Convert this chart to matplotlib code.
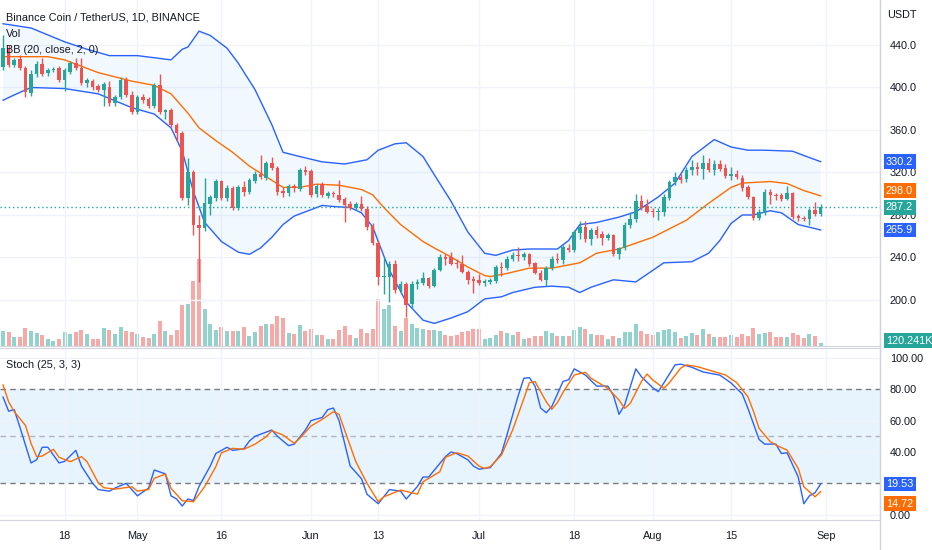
import numpy as np
import pandas as pd
import matplotlib
matplotlib.use("Agg")
import matplotlib.pyplot as plt
from matplotlib.lines import Line2D
from matplotlib.transforms import blended_transform_factory

plt.rcParams['font.family'] = ['Liberation Sans Narrow', 'Liberation Sans', 'DejaVu Sans']

# daily candles, Apr 7 .. Aug 31 2022
opens = [
    419, 436, 421, 427, 418, 395, 413, 422, 414, 416, 418, 407, 415, 423, 418, 404, 406, 401, 398, 400, 385, 391, 407, 393,
    377, 391, 389, 383, 402, 377, 379, 365, 357, 296, 320, 271, 268, 290, 296, 312, 296, 305, 287, 306, 302, 312, 319, 315, 329, 324, 303, 301, 307, 304, 322,
    321, 300, 309, 298, 301, 299, 295, 290, 287, 290, 286, 270, 254, 222, 222, 234, 209, 215, 196, 215, 216, 221, 213, 228, 240, 240, 235, 234, 226, 220,
    219, 216, 217, 218, 231, 230, 239, 242, 240, 243, 235, 225, 219, 230, 239, 238, 249, 247, 263, 269, 257, 266, 262, 258, 261, 243, 249, 271, 276, 293, 288,
    284, 283, 283, 296, 311, 316, 314, 322, 325, 323, 329, 322, 328, 324, 317, 319, 315, 306, 297, 277, 282, 302, 299, 299, 295, 301, 279, 277, 276, 285, 281,
]
highs = [
    449, 440, 428, 431, 420, 416, 425, 428, 418, 419, 420, 418, 425, 428, 428, 409, 408, 403, 405, 406, 393, 410, 410, 397,
    393, 394, 391, 404, 413, 380, 381, 367, 359, 334, 322, 280, 315, 299, 314, 313, 308, 307, 308, 312, 315, 321, 336, 331, 335, 326, 306, 309, 309, 324, 326,
    323, 309, 311, 303, 303, 313, 297, 293, 292, 298, 288, 272, 256, 240, 237, 238, 218, 217, 218, 220, 226, 222, 230, 243, 243, 245, 239, 242, 228, 223,
    224, 220, 221, 233, 236, 241, 245, 250, 245, 244, 236, 228, 232, 241, 244, 252, 253, 266, 274, 274, 268, 270, 265, 263, 262, 250, 273, 283, 300, 299, 295,
    287, 287, 300, 313, 320, 319, 325, 332, 330, 336, 334, 332, 332, 328, 325, 322, 318, 308, 298, 286, 304, 304, 301, 301, 307, 302, 281, 279, 287, 292, 290,
]
lows = [
    416, 419, 419, 416, 391, 392, 410, 411, 411, 415, 405, 397, 413, 416, 402, 400, 398, 396, 383, 383, 383, 389, 391, 375,
    375, 385, 381, 381, 375, 370, 363, 350, 294, 289, 261, 217, 265, 280, 293, 294, 293, 285, 285, 298, 300, 310, 314, 313, 322, 299, 297, 298, 302, 303, 318,
    297, 297, 297, 296, 297, 292, 273, 285, 285, 284, 266, 252, 214, 206, 198, 207, 206, 184, 192, 210, 214, 211, 212, 227, 233, 233, 230, 225, 215, 207,
    214, 213, 215, 216, 223, 228, 237, 237, 238, 232, 224, 218, 213, 228, 235, 234, 245, 245, 257, 255, 252, 258, 252, 256, 241, 239, 247, 268, 273, 285, 282,
    278, 275, 279, 294, 308, 310, 311, 318, 318, 314, 320, 318, 321, 315, 313, 314, 303, 295, 275, 275, 280, 290, 294, 293, 294, 276, 274, 274, 271, 279, 279,
]
closes = [
    437, 421, 426, 418, 396, 413, 422, 413, 416, 417, 407, 416, 423, 418, 404, 407, 400, 398, 403, 385, 391, 407, 393, 377,
    391, 388, 383, 402, 377, 379, 365, 357, 296, 320, 271, 268, 291, 297, 312, 296, 305, 287, 306, 302, 313, 319, 316, 329, 324, 302, 301, 307, 305, 322, 320,
    299, 307, 299, 301, 300, 294, 289, 287, 290, 286, 269, 254, 222, 223, 234, 209, 215, 195, 215, 217, 221, 213, 228, 240, 239, 234, 234, 226, 219, 218,
    216, 218, 219, 231, 230, 239, 242, 241, 243, 234, 225, 219, 230, 239, 238, 250, 247, 264, 269, 257, 266, 261, 258, 261, 243, 249, 271, 276, 293, 287, 283,
    283, 284, 297, 311, 316, 313, 322, 325, 323, 329, 322, 328, 323, 317, 319, 316, 305, 297, 277, 283, 302, 299, 298, 295, 301, 278, 277, 276, 285, 281, 287.2,
]
# volume in thousands of BNB
volumes = [
    525, 490, 315, 315, 630, 525, 455, 385, 245, 175, 245, 490, 420, 490, 560, 420, 245, 245, 630, 560, 420, 665, 525, 490,
    420, 315, 280, 420, 875, 525, 385, 560, 1435, 1470, 2275, 3045, 1295, 770, 560, 665, 525, 525, 525, 665, 350, 490, 700, 770, 770, 1050, 980, 455, 420, 735, 525,
    595, 385, 385, 245, 245, 560, 700, 385, 280, 595, 455, 595, 1645, 1295, 1435, 700, 525, 980, 770, 630, 595, 560, 560, 525, 385, 350, 385, 490, 525, 595,
    595, 245, 280, 385, 525, 455, 385, 490, 245, 280, 350, 350, 525, 455, 350, 350, 350, 560, 665, 595, 420, 385, 385, 245, 350, 280, 490, 490, 770, 525, 420,
    385, 490, 560, 595, 490, 280, 350, 455, 385, 595, 420, 315, 315, 315, 385, 315, 420, 350, 630, 420, 455, 490, 315, 315, 315, 455, 385, 280, 420, 350, 120.241,
]

# Bollinger bands (20, close, 2)
bb_upper_dates = ['04-07', '04-12', '04-18', '04-22', '04-26', '05-01', '05-07', '05-09', '05-10', '05-12', '05-14', '05-17',
                  '05-19', '05-22', '05-25', '05-27', '05-30', '06-03', '06-07', '06-11', '06-13', '06-16', '06-18', '06-21',
                  '06-23', '06-26', '06-29', '07-02', '07-04', '07-07', '07-10', '07-15', '07-17', '07-19', '07-22', '07-26',
                  '07-29', '08-02', '08-05', '08-08', '08-12', '08-15', '08-18', '08-21', '08-26', '08-28', '08-31']
bb_upper = [460, 456, 443, 436, 430, 430, 426, 436, 438, 453, 449, 437,
            423, 398, 365, 339, 335, 330, 328, 332, 341, 347, 348, 335,
            318, 293, 264, 244, 242, 247, 248, 248, 256, 271, 273, 278,
            283, 297, 310, 335, 351, 344, 341, 341, 340, 336, 330.2]
bb_basis_dates = ['04-07', '04-12', '04-15', '04-18', '04-21', '04-24', '04-30', '05-04', '05-07', '05-10', '05-12', '05-15',
                  '05-18', '05-21', '05-24', '05-27', '05-30', '06-02', '06-06', '06-10', '06-12', '06-14', '06-17', '06-21',
                  '06-23', '06-26', '06-29', '07-02', '07-03', '07-06', '07-10', '07-14', '07-19', '07-22', '07-26', '08-01',
                  '08-07', '08-11', '08-15', '08-17', '08-22', '08-25', '08-28', '08-31']
bb_basis = [429, 429, 429, 426, 420, 414, 406, 402, 394, 376, 362, 350,
            339, 326, 316, 306, 306, 309, 308, 304, 299, 287, 271, 255,
            249, 240.5, 231, 223, 222, 225, 230, 230, 235, 244, 248, 259,
            275, 291, 306, 310, 311.5, 309.6, 303, 298.0]
bb_lower_dates = ['04-07', '04-09', '04-12', '04-18', '04-24', '04-30', '05-04', '05-07', '05-09', '05-11', '05-13', '05-16',
                  '05-19', '05-21', '05-23', '05-25', '05-27', '05-29', '05-31', '06-03', '06-05', '06-08', '06-10', '06-12',
                  '06-13', '06-15', '06-18', '06-21', '06-23', '06-26', '06-29', '07-02', '07-05', '07-07', '07-11', '07-14',
                  '07-17', '07-19', '07-21', '07-25', '07-29', '08-03', '08-08', '08-11', '08-13', '08-15', '08-17', '08-19',
                  '08-22', '08-24', '08-27', '08-31']
bb_lower = [388, 393, 400, 399, 394, 381, 375, 362, 340, 302, 273, 255,
            245, 243, 249, 259, 271, 279, 283, 289, 288, 287, 282, 269,
            255, 228, 198, 181, 178, 183, 189, 201, 203, 207, 212, 213,
            212, 207, 212, 219, 217, 235, 236, 244, 256, 272, 280, 280,
            284, 282, 271, 265.9]

# Stochastic (25, 3, 3): day number counted from Apr 7
stoch_k_days = [0, 1, 2, 3, 5, 6, 7, 8, 10, 11, 13, 14, 16, 17, 19, 20, 22, 24, 26, 27, 29, 30, 31, 32, 33, 34, 35, 37,
                38, 40, 41, 43, 44, 45, 48, 49, 51, 52, 54, 55, 57, 58, 59, 60, 62, 64, 65, 67, 69, 71, 72, 74, 75, 76,
                79, 80, 81, 83, 84, 85, 87, 89, 90, 92, 93, 94, 95, 96, 97, 98, 100, 101, 102, 104, 106, 108, 109, 110,
                111, 113, 114, 116, 117, 118, 120, 121, 123, 125, 128, 130, 132, 133, 134, 135, 136, 138, 139, 140, 142,
                143, 144, 145, 146]
stoch_k = [75, 66, 67, 56, 33, 35, 43, 43, 33, 34, 41, 31, 20, 16, 15, 17, 20, 12, 17, 28.5, 26, 12, 10, 5.5, 10, 9, 18, 31,
           39, 43, 41, 42, 47, 50, 54, 50, 44, 45, 54, 60, 62, 67, 68, 60, 31, 23, 13, 7, 16, 15, 10, 18, 24, 24,
           37, 40, 39, 35, 31, 29, 30, 39, 51, 76, 87, 87.4, 82, 68, 65, 69, 85, 86, 93, 89, 82, 82, 76, 64,
           70, 93, 88, 81, 78.5, 84, 95.5, 96, 94, 91, 89, 84, 77, 68, 58, 48, 45, 45, 39, 39.5, 24,
           7, 12, 14, 19.53]
stoch_d_days = [0, 1, 2, 4, 5, 6, 7, 9, 10, 12, 14, 15, 17, 18, 20, 23, 24, 26, 27, 29, 30, 32, 34, 36, 38, 39, 41, 43,
                45, 47, 48, 50, 52, 53, 55, 57, 59, 60, 63, 65, 67, 68, 71, 74, 75, 78, 79, 81, 83, 85, 86, 87, 89, 91,
                93, 94, 95, 97, 98, 99, 100, 102, 104, 105, 107, 108, 110, 111, 112, 114, 115, 116, 118, 119, 121, 122,
                124, 127, 129, 131, 133, 134, 135, 137, 138, 140, 142, 143, 145, 146]
stoch_d = [82.7, 72, 65.7, 57, 45.5, 37, 37.4, 41.7, 36.6, 33.8, 37, 33.8, 20.4, 17.2, 16.3, 17.8, 15, 16.1, 23.2, 25.9, 16.8, 8.9, 8.3, 17.8, 30.6, 39.5, 42.3, 41.7,
           45, 49.7, 53.6, 50.8, 45.5, 48.7, 56.6, 60.8, 65.7, 64, 33.8, 20, 8.3, 11.4, 15.7, 13.1, 21, 27.4, 36.6, 39.5, 37.4, 31, 29.5, 30.6, 38, 54,
           74, 84.2, 84.9, 72, 67.2, 71.5, 78, 89.1, 90.8, 87, 82.7, 80.6, 73.1, 67.8, 71, 84.9, 89.7, 86, 80.6, 84.2, 93.4, 95.5,
           94.4, 91.2, 89.1, 84.2, 75.3, 66, 55.1, 46.6, 44.4, 41.2, 29.5, 17.8, 11.4, 14.72]

tick_dates = ['04-18', '05-01', '05-16', '06-01', '06-13', '07-01', '07-18', '08-01', '08-15', '09-01']
tick_labels = ['18', 'May', '16', 'Jun', '13', 'Jul', '18', 'Aug', '15', 'Sep']

GREEN = '#26a69a'
RED = '#ef5350'
BLUE = '#2962FF'
ORANGE = '#FF6D00'
TEXT = '#131722'
GRID = '#f0f3fa'
LINE = '#d1d4dc'
FS = 7.8

start = pd.Timestamp('2022-04-07')


def day_of(s):
    return (pd.Timestamp('2022-' + s) - start).days


o = np.array(opens, float)
h = np.array(highs, float)
l = np.array(lows, float)
c = np.array(closes, float)
v = np.array(volumes, float)
n = len(c)
assert len(o) == len(h) == len(l) == len(v) == n == 147
x = np.arange(n)

W, H = 932, 550
fig = plt.figure(figsize=(W / 100, H / 100), dpi=100)
fig.patch.set_facecolor('white')


def rect(x0, y0, x1, y1):
    return [x0 / W, 1 - y1 / H, (x1 - x0) / W, (y1 - y0) / H]


ax_vol = fig.add_axes(rect(0, 0, 880, 346), zorder=0)
ax = fig.add_axes(rect(0, 0, 880, 346), zorder=1)
ax_st = fig.add_axes(rect(0, 348, 880, 520), zorder=1)
ax.patch.set_visible(False)

xlim = (-0.54, 156.6)
tick_x = [day_of(s) for s in tick_dates]

# ---- volume
up = c >= o
vol_colors = np.where(up, '#92d2cc', '#f7a9a7')
ax_vol.bar(x, v, width=0.72, color=vol_colors, linewidth=0)
ax_vol.set_xlim(xlim)
ax_vol.set_ylim(0, 12110)
ax_vol.axis('off')

# ---- price panel
ax.set_xlim(xlim)
ax.set_ylim(156.7, 482.35)

ux = [day_of(s) for s in bb_upper_dates]
bx = [day_of(s) for s in bb_basis_dates]
lx = [day_of(s) for s in bb_lower_dates]
ax.fill(np.r_[ux, lx[::-1]], np.r_[bb_upper, bb_lower[::-1]], color='#2196F3', alpha=0.06, lw=0, zorder=1)
ax.plot(ux, bb_upper, color=BLUE, lw=1, zorder=2)
ax.plot(lx, bb_lower, color=BLUE, lw=1, zorder=2)
ax.plot(bx, bb_basis, color=ORANGE, lw=1, zorder=2)

cols = np.where(up, GREEN, RED)
ax.vlines(x, l, h, colors=cols, lw=1, zorder=3)
body = np.maximum(np.abs(c - o), 0.9)
ax.bar(x, body, bottom=np.minimum(o, c), width=0.62, color=cols, linewidth=0, zorder=4)

ax.axhline(c[-1], color=GREEN, lw=1, ls=(0, (1, 2)), zorder=2)

price_ticks = [200, 240, 280, 320, 360, 400, 440]
for t in price_ticks:
    ax.axhline(t, color=GRID, lw=1, zorder=0)
for t in tick_x:
    ax.axvline(t, color=GRID, lw=1, zorder=0)
ax.yaxis.tick_right()
ax.set_yticks(price_ticks)
ax.set_yticklabels([f'{t:.1f}' for t in price_ticks])
ax.set_xticks([])
ax.tick_params(axis='y', length=0, pad=7, labelsize=FS, labelcolor=TEXT)
for side in ['top', 'left']:
    ax.spines[side].set_visible(False)
ax.spines['bottom'].set_color(LINE)
ax.spines['right'].set_color(LINE)

# ---- stochastic panel
ax_st.set_xlim(xlim)
ax_st.set_ylim(-3.4, 106.3)
ax_st.axhspan(20, 80, color='#2196F3', alpha=0.1, lw=0, zorder=0)
# 20.00 sits fully under the %K tag in the reference, so it is left out
stoch_ticks = [0, 40, 60, 80, 100]
for t in [0, 40, 60, 100]:
    ax_st.axhline(t, color=GRID, lw=1, zorder=0)
for t in tick_x:
    ax_st.axvline(t, color=GRID, lw=1, zorder=0)
ax_st.axhline(80, color='#787B86', lw=1, ls=(0, (4, 3)), zorder=1)
ax_st.axhline(50, color='#b2b5be', lw=1, ls=(0, (4, 3)), zorder=1)
ax_st.axhline(20, color='#787B86', lw=1, ls=(0, (4, 3)), zorder=1)
ax_st.plot(stoch_k_days, stoch_k, color=BLUE, lw=1, zorder=3)
ax_st.plot(stoch_d_days, stoch_d, color=ORANGE, lw=1, zorder=3)

ax_st.yaxis.tick_right()
ax_st.set_yticks(stoch_ticks)
ax_st.set_yticklabels([f'{t:.2f}' for t in stoch_ticks])
ax_st.set_xticks(tick_x)
ax_st.set_xticklabels(tick_labels)
ax_st.tick_params(axis='both', length=0, labelsize=FS, labelcolor=TEXT)
ax_st.tick_params(axis='y', pad=7)
ax_st.tick_params(axis='x', pad=8)
ax_st.spines['left'].set_visible(False)
for side in ['top', 'bottom', 'right']:
    ax_st.spines[side].set_color(LINE)

fig.add_artist(Line2D([880 / W, 880 / W], [0, 1], color=LINE, lw=1))


# ---- right-hand value tags
def tag(axis, value, text, color, dy=0):
    tr = blended_transform_factory(axis.transAxes, axis.transData)
    axis.annotate(text, xy=(1 + 6 / 880, value), xycoords=tr, xytext=(0, dy), textcoords='offset pixels',
                  va='center', ha='left', color='white', fontsize=FS, annotation_clip=False, zorder=10,
                  bbox=dict(boxstyle='square,pad=0.22', fc=color, ec='none'))


tag(ax, bb_upper[-1], f'{bb_upper[-1]:.1f}', BLUE)
tag(ax, bb_basis[-1], f'{bb_basis[-1]:.1f}', ORANGE, dy=5)
tag(ax, c[-1], f'{c[-1]:.1f}', GREEN)
tag(ax, bb_lower[-1], f'{bb_lower[-1]:.1f}', BLUE)
tag(ax_vol, v[-1], f'{v[-1]:.3f}K', GREEN, dy=2)
tag(ax_st, stoch_k[-1], f'{stoch_k[-1]:.2f}', BLUE)
tag(ax_st, stoch_d[-1], f'{stoch_d[-1]:.2f}', ORANGE, dy=-12)

# ---- legend texts
fig.text(887 / W, 1 - 15 / H, 'USDT', va='center', ha='left', fontsize=FS, color=TEXT)
fig.text(6 / W, 1 - 17 / H, 'Binance Coin / TetherUS, 1D, BINANCE', va='center', fontsize=FS, color=TEXT)
fig.text(6 / W, 1 - 34 / H, 'Vol', va='center', fontsize=FS, color=TEXT)
fig.text(6 / W, 1 - 50 / H, 'BB (20, close, 2, 0)', va='center', fontsize=FS, color=TEXT)
fig.text(6 / W, 1 - 365 / H, 'Stoch (25, 3, 3)', va='center', fontsize=FS, color=TEXT)

fig.savefig('out.png', dpi=100)
